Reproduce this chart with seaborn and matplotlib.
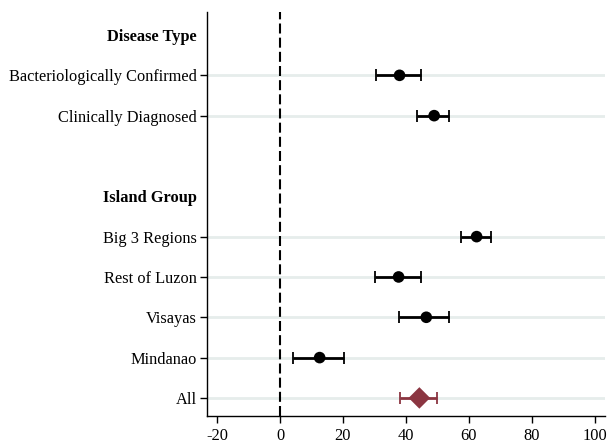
import matplotlib
matplotlib.use("Agg")
import matplotlib.pyplot as plt
import seaborn as sns
import pandas as pd
import numpy as np

labels = ["Disease Type", "Bacteriologically Confirmed", "Clinically Diagnosed", "",
          "Island Group", "Big 3 Regions", "Rest of Luzon", "Visayas", "Mindanao", "All"]
is_header = [True, False, False, True, True, False, False, False, False, False]
point = [np.nan, 38.0, 49.0, np.nan, np.nan, 62.5, 37.7, 46.5, 12.6, 44.3]
lower = [np.nan, 30.4, 43.7, np.nan, np.nan, 57.4, 30.1, 37.9, 4.0, 38.3]
upper = [np.nan, 44.7, 53.7, np.nan, np.nan, 67.2, 44.7, 53.8, 20.5, 49.9]
kind = ["", "sub", "sub", "", "", "sub", "sub", "sub", "sub", "all"]

sns.set_theme(style="white")
plt.rcParams['font.family'] = ['Liberation Serif', 'DejaVu Serif']

df = pd.DataFrame({"label": labels, "pos": np.arange(len(labels)), "point": point,
                   "lower": lower, "upper": upper, "kind": kind})
dd = df.dropna()

fig = plt.figure(figsize=(6.08, 4.45), dpi=100)
ax = fig.add_axes([0.340, 0.065, 0.655, 0.908])

maroon = "#8b3541"
for _, r in dd.iterrows():
    c = maroon if r["kind"] == "all" else "black"
    ax.errorbar(r["point"], r["pos"], xerr=[[r["point"] - r["lower"]], [r["upper"] - r["point"]]],
                fmt="none", ecolor=c, elinewidth=2.0, capsize=4.5, capthick=1.3, zorder=3)

sns.scatterplot(data=dd, x="point", y="pos", hue="kind", style="kind",
                palette={"sub": "black", "all": maroon}, markers={"sub": "o", "all": "D"},
                size="kind", sizes={"sub": 70, "all": 120},
                edgecolor="none", legend=False, ax=ax, zorder=4)

ax.axvline(0, color="black", linestyle=(0, (4.8, 2.0)), linewidth=1.5, zorder=2)

ax.set_xlim(-23.3, 103.3)
ax.set_ylim(9.45, -0.57)
ax.set_xticks([-20, 0, 20, 40, 60, 80, 100])
ax.set_xticklabels(["-20", "0", "20", "40", "60", "80", "100"])
ax.set_yticks(df["pos"])
ax.set_yticklabels(labels)
ax.set_xlabel("")
ax.set_ylabel("")

ax.grid(axis="y", color="#e6edeb", linewidth=2.0, zorder=0)
ax.set_axisbelow(True)

ax.tick_params(axis="both", which="both", length=5, width=1, color="black",
               labelsize=11.8, labelcolor="black", bottom=True, left=True)
ax.tick_params(axis="y", pad=2)
for i, t in enumerate(ax.yaxis.get_major_ticks()):
    if is_header[i]:
        t.tick1line.set_visible(False)
        t.gridline.set_visible(False)
        t.label1.set_fontweight("bold")
for s in ["top", "right"]:
    ax.spines[s].set_visible(False)
for s in ["left", "bottom"]:
    ax.spines[s].set_color("black")
    ax.spines[s].set_linewidth(1.0)

fig.savefig("out.png", dpi=100)
